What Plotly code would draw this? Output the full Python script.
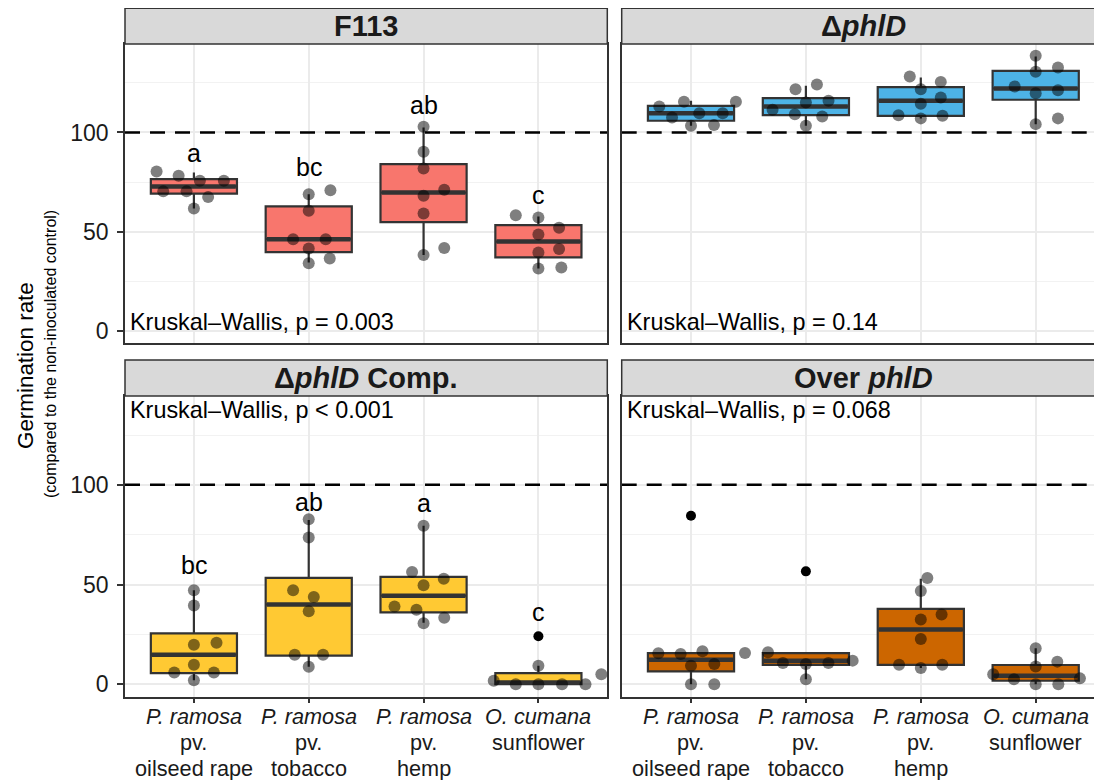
import plotly.graph_objects as go

# ---------------- data ----------------
CATEGORY_LINES = [["<i>P. ramosa</i>", "pv.", "oilseed rape"],
                  ["<i>P. ramosa</i>", "pv.", "tobacco"],
                  ["<i>P. ramosa</i>", "pv.", "hemp"],
                  ["<i>O. cumana</i>", "sunflower"]]
CAT_POS = [1, 2, 3, 4]
Y_TICKS = [0, 50, 100]
Y_MINOR = [25, 75, 125]
REF_LINE = 100

PANEL_TITLES = ["<b>F113</b>", "<b>Δ<i>phlD</i></b>",
                "<b>Δ<i>phlD</i> Comp.</b>", "<b>Over <i>phlD</i></b>"]
PANEL_COLORS = ["#F8766D", "#4DB3E6", "#FFC933", "#CC6600"]
KW_LABELS = ["Kruskal–Wallis, p = 0.003", "Kruskal–Wallis, p = 0.14",
             "Kruskal–Wallis, p < 0.001", "Kruskal–Wallis, p = 0.068"]
KW_Y = [4.5, 4.5, 137.8, 137.8]

# F113
f113_q1 = [69.2, 39.7, 54.8, 37.0]
f113_med = [72.8, 46.2, 69.7, 45.0]
f113_q3 = [76.5, 62.7, 84.0, 53.3]
f113_lo = [61.7, 34.5, 38.2, 31.4]
f113_hi = [79.8, 68.9, 102.5, 57.6]
f113_pts = [[80.3, 78.2, 75.6, 75.6, 70.3, 70.3, 67.4, 61.7],
            [68.9, 70.9, 60.5, 46.2, 46.2, 41.5, 36.5, 34.1],
            [102.9, 90.3, 81.8, 71.1, 68.1, 59.2, 41.8, 38.2],
            [58.3, 57.1, 51.9, 48.6, 41.2, 39.5, 31.4, 31.9]]
f113_jit = [[-0.325, -0.133, 0.052, 0.261, -0.267, -0.064, 0.124, 0.0],
            [0.0, 0.189, 0.0, -0.136, 0.148, 0.0, 0.183, 0.0],
            [0.0, 0.0, 0.0, 0.18, 0.0, 0.0, 0.18, 0.0],
            [-0.197, 0.0, 0.18, 0.0, 0.18, 0.0, 0.0, 0.2]]
f113_out = [[], [], [], []]
f113_letters = ["a", "bc", "ab", "c"]
f113_letter_y = [89.6, 82.4, 113.8, 68.4]

# delta phlD
dphl_q1 = [105.9, 108.7, 108.4, 116.5]
dphl_med = [109.7, 113.1, 116.0, 122.2]
dphl_q3 = [113.4, 117.3, 122.9, 131.1]
dphl_lo = [103.4, 103.4, 107.1, 104.2]
dphl_hi = [116.0, 123.5, 127.7, 138.3]
dphl_pts = [[113.1, 115.5, 107.6, 109.7, 109.7, 115.5, 103.4, 103.7],
            [121.8, 124.2, 115.1, 116.0, 111.4, 109.2, 108.1, 103.4],
            [128.2, 125.5, 121.8, 117.6, 114.5, 108.7, 107.1, 108.4],
            [138.7, 132.8, 130.6, 123.2, 121.3, 119.8, 107.1, 104.2]]
dphl_jit = [[-0.276, -0.061, -0.165, 0.072, 0.276, 0.391, 0.0, 0.2],
            [-0.09, 0.096, 0.0, 0.197, -0.29, -0.096, 0.142, 0.0],
            [-0.096, 0.174, 0.0, 0.174, 0.0, -0.194, 0.0, 0.189],
            [0.0, 0.194, 0.0, -0.183, 0.194, 0.0, 0.194, 0.0]]
dphl_out = [[], [], [], []]
dphl_letters = []
dphl_letter_y = []

# delta phlD Comp.
comp_q1 = [5.5, 14.3, 36.0, 0.0]
comp_med = [14.8, 40.0, 44.4, 0.8]
comp_q3 = [25.5, 53.3, 53.8, 5.5]
comp_lo = [2.0, 8.7, 30.8, 0.0]
comp_hi = [47.1, 82.4, 79.5, 9.2]
comp_pts = [[47.1, 39.5, 20.8, 19.8, 9.7, 5.9, 5.9, 2.0],
            [82.7, 73.6, 47.1, 43.7, 36.6, 14.8, 14.8, 8.7],
            [79.5, 56.3, 52.9, 49.6, 39.0, 37.3, 33.3, 30.6],
            [9.2, 5.0, 1.7, 0.0, 0.0, 0.0, 0.0]]
comp_jit = [[0.0, 0.0, 0.197, 0.0, 0.0, -0.171, 0.174, 0.0],
            [0.0, 0.0, -0.136, 0.044, 0.0, -0.122, 0.125, 0.0],
            [0.0, -0.1, 0.176, 0.0, -0.253, -0.062, 0.18, 0.0],
            [0.0, 0.548, -0.389, -0.197, 0.0, 0.206, 0.41]]
comp_out = [[], [], [], [24.0]]
comp_letters = ["bc", "ab", "a", "c"]
comp_letter_y = [59.7, 91.6, 91.1, 36.1]

# Over phlD
over_q1 = [6.4, 9.7, 9.7, 1.7]
over_med = [12.3, 11.8, 27.4, 4.2]
over_q3 = [15.6, 15.6, 37.8, 9.6]
over_lo = [0.0, 2.5, 8.1, 0.0]
over_hi = [15.6, 15.6, 52.9, 18.0]
over_pts = [[15.5, 15.1, 16.5, 15.6, 9.2, 10.1, 0.0, 0.0],
            [16.0, 10.6, 10.1, 10.6, 11.8, 2.5],
            [53.3, 46.7, 35.0, 32.4, 22.7, 9.7, 8.1, 9.7],
            [18.0, 11.3, 8.9, 5.0, 2.5, 2.9, 0.0, 0.0]]
over_jit = [[-0.284, -0.09, 0.1, 0.47, 0.0, 0.203, 0.0, 0.203],
            [-0.33, -0.2, 0.0, 0.196, 0.407, 0.0],
            [0.057, 0.0, 0.181, 0.0, 0.0, -0.189, 0.0, 0.187],
            [0.0, 0.188, 0.0, -0.37, -0.189, 0.385, 0.0, 0.197]]
over_out = [[84.5], [56.6], [], []]
over_letters = []
over_letter_y = []

PANELS = [
    (f113_q1, f113_med, f113_q3, f113_lo, f113_hi, f113_pts, f113_jit, f113_out, f113_letters, f113_letter_y),
    (dphl_q1, dphl_med, dphl_q3, dphl_lo, dphl_hi, dphl_pts, dphl_jit, dphl_out, dphl_letters, dphl_letter_y),
    (comp_q1, comp_med, comp_q3, comp_lo, comp_hi, comp_pts, comp_jit, comp_out, comp_letters, comp_letter_y),
    (over_q1, over_med, over_q3, over_lo, over_hi, over_pts, over_jit, over_out, over_letters, over_letter_y),
]

# ---------------- layout geometry ----------------
OFF = 8                      # default page margin around the plot div
FW, FH = 1102 - OFF, 780 - OFF
FONT = "Liberation Sans, Arial, Helvetica, sans-serif"
BOX_W = 0.75
GRID = "#EBEBEB"
DARK = "#333333"
LABEL_TOP = 716.7            # page y of first category-label line
LABEL_STEP = 25.8            # line spacing of category labels


def px(xp):
    return (xp - OFF) / FW


def py(yp):
    return 1 - (yp - OFF) / FH


XD = [(px(125), px(607.3)), (px(621.7), 1.0)]
XR = [[0.4, 4.6], [0.397, 4.577]]
YD = [(py(343.3), py(44)), (py(696.7), py(396))]
STRIP = [(py(44), py(8.3)), (py(396), py(360))]
YR = [-6.3, 144.6]

fig = go.Figure()
layout = dict(width=FW, height=FH, margin=dict(l=0, r=0, t=0, b=0, autoexpand=False),
              paper_bgcolor="white", plot_bgcolor="white", showlegend=False,
              font=dict(family=FONT, color="black"))
shapes, annotations = [], []

for i, (q1, med, q3, lo, hi, pts, jit, outl, letters, ly) in enumerate(PANELS):
    col, row = i % 2, i // 2
    sfx = "" if i == 0 else str(i + 1)
    xa, ya = "x" + sfx, "y" + sfx
    color = PANEL_COLORS[i]

    layout["xaxis" + sfx] = dict(
        domain=list(XD[col]), anchor=ya, range=XR[col], tickmode="array",
        tickvals=CAT_POS, showticklabels=False,
        ticks="outside" if row == 1 else "", ticklen=5, tickwidth=1.5, tickcolor=DARK,
        showgrid=True, gridcolor=GRID, gridwidth=2, zeroline=False,
        showline=True, mirror=True, linecolor=DARK, linewidth=1.5)
    layout["yaxis" + sfx] = dict(
        domain=list(YD[row]), anchor=xa, range=YR, tickmode="array",
        tickvals=Y_TICKS, showticklabels=(col == 0),
        ticks="outside" if col == 0 else "", ticklen=6, tickwidth=1.5, tickcolor=DARK,
        ticklabelstandoff=4,
        tickfont=dict(size=23, color="#1a1a1a", family=FONT),
        showgrid=True, gridcolor=GRID, gridwidth=2, zeroline=False,
        minor=dict(tickmode="array", tickvals=Y_MINOR, showgrid=True,
                   gridcolor="#F2F2F2", gridwidth=1, ticks=""),
        showline=True, mirror=True, linecolor=DARK, linewidth=1.5)

    # reference line at 100 (dashed)
    fig.add_trace(go.Scatter(
        x=XR[col], y=[REF_LINE, REF_LINE], mode="lines",
        line=dict(color="black", width=2.5, dash="15px,10px"),
        xaxis=xa, yaxis=ya, hoverinfo="skip"))

    # boxes
    for k, c in enumerate(CAT_POS):
        fig.add_trace(go.Box(
            x=[c], q1=[q1[k]], median=[med[k]], q3=[q3[k]],
            lowerfence=[lo[k]], upperfence=[hi[k]], width=BOX_W,
            fillcolor=color, line=dict(color=DARK, width=2.2), whiskerwidth=0,
            boxpoints=False, xaxis=xa, yaxis=ya, hoverinfo="skip"))
        # thicker median (ggplot fatten)
        fig.add_trace(go.Scatter(
            x=[c - BOX_W / 2 + 0.01, c + BOX_W / 2 - 0.01], y=[med[k], med[k]],
            mode="lines", line=dict(color=DARK, width=4.5),
            xaxis=xa, yaxis=ya, hoverinfo="skip"))
        # outliers
        if outl[k]:
            fig.add_trace(go.Scatter(
                x=[c] * len(outl[k]), y=outl[k], mode="markers",
                marker=dict(color="black", size=10, line=dict(width=0)),
                xaxis=xa, yaxis=ya, hoverinfo="skip"))
        # jittered points
        fig.add_trace(go.Scatter(
            x=[c + d for d in jit[k]], y=pts[k], mode="markers",
            marker=dict(color="rgba(0,0,0,0.5)", size=12, line=dict(width=0)),
            xaxis=xa, yaxis=ya, hoverinfo="skip", cliponaxis=False))

        # category labels under bottom panels (tight ggplot line spacing)
        if row == 1:
            for j, line in enumerate(CATEGORY_LINES[k]):
                annotations.append(dict(
                    x=c, y=py(LABEL_TOP + LABEL_STEP * j), xref=xa, yref="paper",
                    text=line, showarrow=False, xanchor="center", yanchor="middle",
                    font=dict(size=21.7, color="#1a1a1a", family=FONT)))

    # significance letters
    for k, t in enumerate(letters):
        annotations.append(dict(x=CAT_POS[k], y=ly[k], xref=xa, yref=ya, text=t,
                                showarrow=False, xanchor="center", yanchor="middle",
                                font=dict(size=25, color="black", family=FONT)))
    # Kruskal-Wallis label
    annotations.append(dict(x=XR[col][0] + 0.025, y=KW_Y[i], xref=xa, yref=ya,
                            text=KW_LABELS[i], showarrow=False, xanchor="left",
                            yanchor="middle",
                            font=dict(size=23.4, color="black", family=FONT)))

    # strip
    x0, x1 = XD[col]
    s0, s1 = STRIP[row]
    shapes.append(dict(type="rect", xref="paper", yref="paper", x0=x0,
                       x1=x1 if col == 0 else 1.003,
                       y0=s0, y1=s1, fillcolor="#D9D9D9", layer="above",
                       line=dict(color=DARK, width=1.5)))
    cx = px((125 + 607.3) / 2) if col == 0 else px(863)
    annotations.append(dict(x=cx, y=(s0 + s1) / 2, xref="paper", yref="paper",
                            text=PANEL_TITLES[i], showarrow=False,
                            xanchor="center", yanchor="middle",
                            font=dict(size=29, color="#1a1a1a", family=FONT)))

# y-axis titles
annotations.append(dict(x=px(25), y=py(366), xref="paper", yref="paper",
                        text="Germination rate", textangle=-90, showarrow=False,
                        xanchor="center", yanchor="middle",
                        font=dict(size=22.4, color="black", family=FONT)))
annotations.append(dict(x=px(50), y=py(354), xref="paper", yref="paper",
                        text="(compared to the non-inoculated control)", textangle=-90,
                        showarrow=False, xanchor="center", yanchor="middle",
                        font=dict(size=16, color="black", family=FONT)))

layout["shapes"] = shapes
layout["annotations"] = annotations
fig.update_layout(**layout)
fig.write_html("out.html")
